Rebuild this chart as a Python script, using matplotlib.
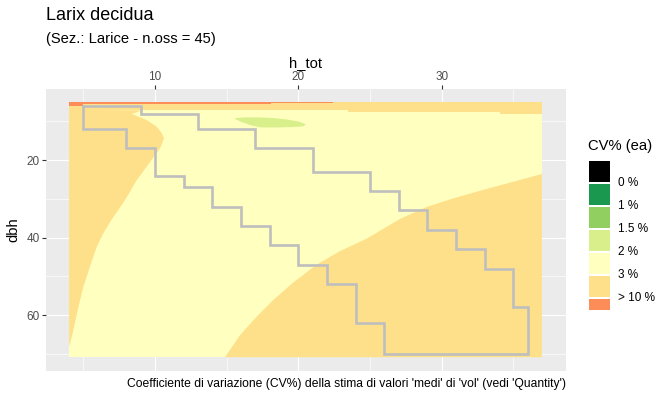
import numpy as np
import matplotlib.pyplot as plt
from matplotlib.patches import Rectangle

plt.rcParams['font.family'] = ['Liberation Sans', 'DejaVu Sans']

# extent of the CV% surface (h_tot, dbh)
h_range = [4.0, 37.0]
dbh_range = [4.95, 70.9]

# region boundaries
# top band CV 3-10 %
band_h = [4.0, 23.5, 23.5, 29.4, 29.4, 34.1, 34.1, 37.0]
band_d = [7.2, 7.2, 7.5, 7.5, 7.7, 7.7, 8.1, 8.1]
# top stripe CV > 10 %
top_h = [4.0, 5.0, 5.0, 9.1, 9.1, 18.1, 18.1, 22.4]
top_d = [6.0, 6.0, 5.6, 5.6, 5.45, 5.45, 5.3, 5.3]
# left region CV 3-10 %
left_h = [4.0, 9.07, 8.37, 9.42, 10.12, 10.47, 10.63, 10.35, 10.0, 9.42, 8.72,
          7.91, 6.95, 6.39, 5.93, 5.46, 5.0, 4.65, 4.3, 4.07, 4.0]
left_d = [7.0, 7.2, 8.13, 9.68, 11.4, 13.1, 14.4, 17.0, 18.7, 21.7, 25.2,
          30.3, 35.5, 38.9, 42.4, 47.5, 52.7, 57.9, 63.9, 67.3, 68.0]
# bottom-right region CV 3-10 %
br_h = [14.88, 15.93, 17.1, 18.26, 19.65, 21.28, 22.91, 24.77, 27.1, 28.96,
        30.82, 32.91, 35.0, 37.0, 37.0]
br_d = [70.9, 65.2, 60.4, 56.1, 51.6, 47.0, 43.5, 40.3, 35.2, 32.1,
        29.9, 27.7, 25.6, 23.6, 70.9]
# small patch CV 1.5-2 %
green_h = [15.58, 16.28, 17.21, 18.37, 19.3, 20.0, 20.52, 20.35, 19.54, 18.37,
           17.45, 16.75, 16.05, 15.58]
green_d = [9.2, 9.0, 9.0, 9.2, 9.6, 10.05, 10.8, 11.3, 11.5, 11.6,
           11.6, 11.1, 10.2, 9.4]

# observed domain (staircase)
step_h = [5, 5, 8, 8, 10, 10, 12, 12, 14, 14, 16, 16, 18, 18, 20, 20, 22, 22,
          24, 24, 26, 26, 36, 36, 35, 35, 33, 33, 31, 31, 29, 29, 27, 27, 25,
          25, 21, 21, 17, 17, 13, 13, 9, 9, 5]
step_d = [6, 12, 12, 17, 17, 24, 24, 27, 27, 32, 32, 37, 37, 42, 42, 47, 47,
          52, 52, 62, 62, 70, 70, 58, 58, 48, 48, 43, 43, 38, 38, 33, 33, 28,
          28, 23, 23, 17, 17, 12, 12, 8, 8, 6, 6]

# legend
leg_colors = ['#000000', '#1A9850', '#91CF60', '#D9EF8B', '#FFFFBF', '#FEE08B', '#FC8D59']
leg_labels = ['0 %', '1 %', '1.5 %', '2 %', '3 %', '> 10 %']

W, H = 670, 397
fig = plt.figure(figsize=(W / 100, H / 100), dpi=100)
ax = fig.add_axes([46 / W, 1 - 370.7 / H, (565.7 - 46) / W, (370.7 - 89.3) / H])
ax.set_facecolor('#EBEBEB')

ax.fill_between(h_range, dbh_range[0], dbh_range[1], color='#FFFFBF', lw=0, zorder=2)
ax.fill(br_h, br_d, color='#FEE08B', lw=0, zorder=3)
ax.fill(left_h, left_d, color='#FEE08B', lw=0, zorder=3)
ax.fill_between(band_h, dbh_range[0], band_d, color='#FEE08B', lw=0, zorder=3)
ax.fill_between(top_h, dbh_range[0], top_d, color='#FC8D59', lw=0, zorder=4)
ax.fill(green_h, green_d, color='#D9EF8B', lw=0, zorder=4)
ax.plot(step_h, step_d, color='#BEBEBE', lw=1.9, zorder=5, solid_joinstyle='miter')

ax.set_xlim(2.39, 38.66)
ax.set_ylim(74.37, 1.75)
ax.set_xticks([10, 20, 30])
ax.set_xticks([5, 15, 25, 35], minor=True)
ax.set_yticks([20, 40, 60])
ax.set_yticks([10, 30, 50, 70], minor=True)
ax.grid(which='major', color='white', lw=0.85)
ax.grid(which='minor', color='white', lw=0.45)
ax.set_axisbelow(True)
for s in ax.spines.values():
    s.set_visible(False)
ax.xaxis.tick_top()
ax.xaxis.set_label_position('top')
ax.tick_params(which='major', length=3.2, width=0.8, color='#333333',
               labelsize=8.5, labelcolor='#4D4D4D', pad=1.5)
ax.tick_params(which='minor', length=0)
ax.set_xlabel('h_tot', fontsize=10.6, labelpad=3)
ax.set_ylabel('dbh', fontsize=10.6, labelpad=4)

fig.text(46 / W, 1 - 15 / H, 'Larix decidua', fontsize=13, va='center')
fig.text(46 / W, 1 - 39 / H, '(Sez.: Larice - n.oss = 45)', fontsize=10.6, va='center')
fig.text(566 / W, 1 - 384 / H,
         "Coefficiente di variazione (CV%) della stima di valori 'medi' di 'vol' (vedi 'Quantity')",
         fontsize=8.75, ha='right', va='center')

# binned colour legend
n = len(leg_colors)
lax = fig.add_axes([589 / W, 1 - 310 / H, 21 / W, (310 - 161) / H])
lax.set_xlim(0, 1)
lax.set_ylim(n - 1 + 11 / 23, 0)
lax.axis('off')
for i, c in enumerate(leg_colors):
    hgt = 21 / 23 if i < n - 1 else 11 / 23
    lax.add_patch(Rectangle((0, i), 1, hgt, color=c, lw=0))
for i, lab in enumerate(leg_labels):
    lax.text(1 + 8 / 21, i + 1 - 1 / 23, lab, fontsize=8.5, va='center', ha='left')
fig.text(588 / W, 1 - 146 / H, 'CV% (ea)', fontsize=10.6, va='center')

fig.savefig('out.png', dpi=100)
